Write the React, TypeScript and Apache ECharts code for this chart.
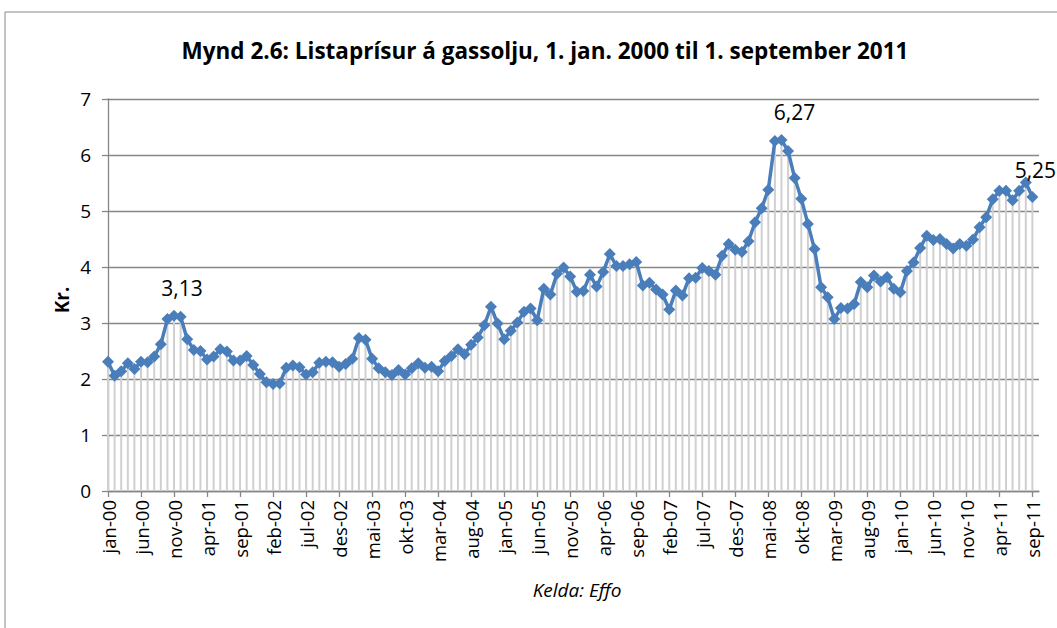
import React, { useEffect, useRef } from "react";
import * as echarts from "echarts";

const monthNames = ["jan", "feb", "mar", "apr", "mai", "jun", "jul", "aug", "sep", "okt", "nov", "des"];
const years = ["00", "01", "02", "03", "04", "05", "06", "07", "08", "09", "10", "11"];
const monthsInLastYear = 9;

// Listaprísur á gassolju (kr.), monthly from jan-00 to sep-11
const prices = [
  2.31, 2.06, 2.14, 2.28, 2.18, 2.31, 2.30, 2.40, 2.62, 3.07, 3.13, 3.11,
  2.71, 2.52, 2.50, 2.35, 2.40, 2.53, 2.49, 2.33, 2.33, 2.41, 2.25, 2.09,
  1.94, 1.91, 1.92, 2.20, 2.24, 2.21, 2.08, 2.12, 2.29, 2.31, 2.30, 2.22,
  2.27, 2.36, 2.73, 2.70, 2.36, 2.19, 2.12, 2.07, 2.16, 2.08, 2.19, 2.28,
  2.20, 2.22, 2.14, 2.32, 2.41, 2.53, 2.44, 2.61, 2.74, 2.96, 3.29, 2.99,
  2.71, 2.86, 3.01, 3.20, 3.26, 3.05, 3.61, 3.51, 3.88, 3.99, 3.83, 3.56,
  3.57, 3.86, 3.65, 3.91, 4.23, 4.02, 4.02, 4.05, 4.09, 3.67, 3.72, 3.60,
  3.51, 3.24, 3.58, 3.49, 3.80, 3.81, 3.98, 3.93, 3.86, 4.20, 4.41, 4.31,
  4.27, 4.46, 4.80, 5.05, 5.38, 6.25, 6.27, 6.07, 5.59, 5.22, 4.77, 4.32,
  3.64, 3.46, 3.07, 3.27, 3.26, 3.34, 3.73, 3.64, 3.85, 3.74, 3.82, 3.61,
  3.55, 3.93, 4.08, 4.34, 4.56, 4.48, 4.50, 4.41, 4.33, 4.41, 4.38, 4.49,
  4.71, 4.89, 5.21, 5.36, 5.36, 5.19, 5.36, 5.51, 5.25,
];

// indices of points carrying a data label, and how far right each label sits
const labelledPoints = [10, 102, 140];
const labelShiftRight: Record<number, number> = { 10: 8, 102: 13, 140: 3 };

const yTicks = [0, 1, 2, 3, 4, 5, 6, 7];

const categories: string[] = [];
years.forEach((y, yi) => {
  const n = yi === years.length - 1 ? monthsInLastYear : 12;
  for (let m = 0; m < n; m++) categories.push(`${monthNames[m]}-${y}`);
});
categories.push("");

const FONT = "'Open Sans', 'Noto Sans', sans-serif";

export default function App() {
  const ref = useRef<HTMLDivElement>(null);
  useEffect(() => {
    if (!ref.current) return;
    const chart = echarts.init(ref.current, undefined, { renderer: "svg" });
    const lineData: any[] = prices.map((v, i) =>
      labelledPoints.includes(i)
        ? {
            value: v,
            label: {
              show: true,
              position: "top",
              distance: 11,
              padding: [0, 0, 0, 2 * labelShiftRight[i]],
              fontSize: 21,
              fontFamily: FONT,
              color: "#000",
              formatter: (p: any) => Number(p.value).toFixed(2).replace(".", ","),
            },
          }
        : v
    );
    lineData.push(null);
    const dropData: any[] = [...prices, null];

    chart.setOption({
      animation: false,
      backgroundColor: "#fff",
      title: {
        text: "Mynd 2.6: Listaprísur á gassolju, 1. jan. 2000 til 1. september 2011",
        left: 540,
        top: 34,
        textAlign: "center",
        textStyle: { fontFamily: FONT, fontWeight: "bold", fontSize: 22.5, color: "#000" },
      },
      graphic: [
        {
          type: "rect",
          shape: { x: 5, y: 12, width: 1200, height: 800 },
          style: { fill: "none", stroke: "#888", lineWidth: 1 },
          silent: true,
        },
        {
          type: "text",
          x: 62,
          y: 300,
          rotation: Math.PI / 2,
          style: {
            text: "Kr.",
            fontFamily: FONT,
            fontWeight: "bold",
            fontSize: 19,
            fill: "#000",
            align: "center",
            verticalAlign: "middle",
          },
        },
        {
          type: "text",
          x: 577,
          y: 590,
          style: {
            text: "Kelda: Effo",
            fontFamily: FONT,
            fontStyle: "italic",
            fontSize: 19,
            fill: "#000",
            align: "center",
            verticalAlign: "middle",
          },
        },
      ],
      grid: { left: 108, right: 18, top: 99, bottom: 137, containLabel: false },
      xAxis: {
        type: "category",
        data: categories,
        boundaryGap: false,
        axisLine: { lineStyle: { color: "#868686", width: 1.3 } },
        axisTick: { interval: 4, length: 6, lineStyle: { color: "#868686", width: 1.3 } },
        axisLabel: {
          interval: 4,
          rotate: 90,
          fontFamily: FONT,
          fontSize: 18.5,
          color: "#000",
          margin: 9,
        },
        splitLine: { show: false },
      },
      yAxis: {
        type: "value",
        min: yTicks[0],
        max: yTicks[yTicks.length - 1],
        interval: 1,
        axisLine: { show: true, lineStyle: { color: "#868686", width: 1.3 } },
        axisTick: { show: true, length: 6, lineStyle: { color: "#868686", width: 1.3 } },
        axisLabel: { fontFamily: FONT, fontSize: 19, color: "#000", margin: 17 },
        splitLine: { lineStyle: { color: "#868686", width: 1.3 } },
      },
      series: [
        {
          type: "bar",
          data: dropData,
          barWidth: 2,
          itemStyle: { color: "#d0d0d0" },
          silent: true,
          z: 1,
        },
        {
          type: "line",
          data: lineData,
          symbol: "diamond",
          symbolSize: 12,
          showAllSymbol: true,
          lineStyle: { color: "#4a7ebb", width: 3.5 },
          itemStyle: { color: "#4a7ebb" },
          labelLayout: { hideOverlap: false },
          z: 3,
        },
      ],
    });
    return () => chart.dispose();
  }, []);
  return (
    <div
      ref={ref}
      style={{ position: "fixed", left: 0, top: 0, width: 1057, height: 628 }}
    />
  );
}
